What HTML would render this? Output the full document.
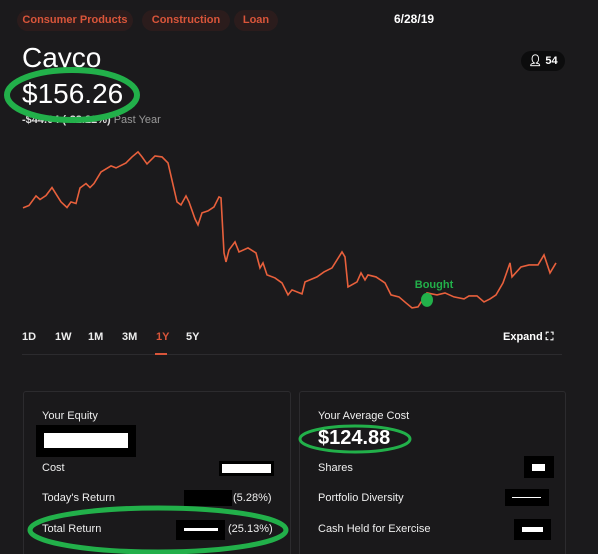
<!DOCTYPE html>
<html><head><meta charset="utf-8"><style>
html,body{margin:0;width:598px;height:554px;background:#1b1a1c;overflow:hidden;font-family:"Liberation Sans",sans-serif;color:#fff;position:relative}
.a{position:absolute;white-space:nowrap}
.pill{position:absolute;top:10px;height:21px;border-radius:11px;background:#2b1c1c;color:#d9553a;font-size:11px;font-weight:bold;line-height:21px;text-align:center}
.tab{position:absolute;top:331px;font-size:11px;font-weight:bold;color:#eee}
.card{position:absolute;top:391px;height:170px;border:1px solid #2c2b2e;border-radius:3px;background:#1a191b}
.lbl{position:absolute;font-size:11px;color:#eee}
.blk{position:absolute;background:#000}
.wht{position:absolute;background:#fff}
</style></head><body>
<div class="pill" style="left:17px;width:116px">Consumer Products</div>
<div class="pill" style="left:142px;width:88px">Construction</div>
<div class="pill" style="left:234px;width:44px">Loan</div>
<div class="a" style="left:394px;top:12px;font-size:12px;font-weight:bold">6/28/19</div>
<div class="a" style="left:521px;top:51px;width:44px;height:20px;border-radius:10px;background:#0c0c0d;font-size:11px;font-weight:bold;line-height:20px;text-align:center">&#x1F464;&#xFE0E; 54</div>
<div class="a" style="left:22px;top:42px;font-size:28px">Cayco</div>
<div class="a" style="left:22px;top:78px;font-size:28px">$156.26</div>
<div class="a" style="left:22px;top:114px;font-size:11px;font-weight:bold;color:#ddd">-$44.04 (-22.22%) <span style="color:#999;font-weight:normal">Past Year</span></div>
<svg class="a" style="left:0;top:0" width="598" height="554">
<ellipse cx="72" cy="95" rx="65" ry="25" fill="none" stroke="#22b04a" stroke-width="6"/>
</svg>
<svg id="chart" class="a" style="left:0;top:0" width="598" height="320"></svg>
<div class="tab" style="left:22px">1D</div>
<div class="tab" style="left:55px">1W</div>
<div class="tab" style="left:88px">1M</div>
<div class="tab" style="left:122px">3M</div>
<div class="tab" style="left:156px;color:#d9553a">1Y</div>
<div class="tab" style="left:186px">5Y</div>
<div class="a" style="left:503px;top:331px;font-size:11px;font-weight:bold">Expand &#x26F6;</div>
<div class="a" style="left:22px;top:354px;width:540px;height:1px;background:#2c2b2e"></div>
<div class="a" style="left:155px;top:353px;width:12px;height:2px;background:#d9553a"></div>
<div class="card" style="left:23px;width:266px"></div>
<div class="card" style="left:299px;width:265px"></div>
<div class="lbl" style="left:42px;top:410px">Your Equity</div>
<div class="blk" style="left:36px;top:425px;width:100px;height:32px"></div>
<div class="wht" style="left:44px;top:433px;width:84px;height:15px"></div>
<div class="lbl" style="left:42px;top:462px">Cost</div>
<div class="blk" style="left:219px;top:461px;width:55px;height:15px"></div>
<div class="wht" style="left:222px;top:464px;width:49px;height:9px"></div>
<div class="lbl" style="left:42px;top:492px">Today's Return</div>
<div class="blk" style="left:184px;top:490px;width:48px;height:16px"></div>
<div class="lbl" style="left:233px;top:492px">(5.28%)</div>
<div class="lbl" style="left:42px;top:523px">Total Return</div>
<div class="blk" style="left:176px;top:520px;width:49px;height:20px"></div>
<div class="wht" style="left:184px;top:528px;width:34px;height:3px"></div>
<div class="lbl" style="left:228px;top:523px">(25.13%)</div>
<div class="lbl" style="left:318px;top:410px">Your Average Cost</div>
<div class="a" style="left:318px;top:427px;font-size:20px;font-weight:bold">$124.88</div>
<div class="lbl" style="left:318px;top:462px">Shares</div>
<div class="blk" style="left:524px;top:456px;width:30px;height:22px"></div>
<div class="wht" style="left:532px;top:464px;width:13px;height:7px"></div>
<div class="lbl" style="left:318px;top:492px">Portfolio Diversity</div>
<div class="blk" style="left:505px;top:489px;width:44px;height:17px"></div>
<div class="wht" style="left:512px;top:497px;width:29px;height:1px"></div>
<div class="lbl" style="left:318px;top:523px">Cash Held for Exercise</div>
<div class="blk" style="left:514px;top:519px;width:37px;height:21px"></div>
<div class="wht" style="left:522px;top:527px;width:21px;height:5px"></div>
<svg class="a" style="left:0;top:0" width="598" height="554">
<ellipse cx="355" cy="439" rx="55" ry="13" fill="none" stroke="#22b04a" stroke-width="3"/>
<ellipse cx="158" cy="530" rx="128" ry="22" fill="none" stroke="#22b04a" stroke-width="5"/>
</svg>
<script>
const days=[1,7,14,18,24,30,35,39,45,49,54,58,64,68,72,79,89,94,104,110,116,120,125,133,140,146,155,159,164,167,173,176,180,186,192,197,199,202,204,207,213,217,226,234,238,241,245,253,260,266,270,280,283,295,302,310,320,323,326,335,339,343,346,354,363,369,377,384,390,396,405,415,423,432,442,447,455,462,468,474,481,488,490,499,507,516,522,528,534,539];
const prices=[183.8,185,189.8,188,190,194,190,186.8,184,186.8,186,193.8,196,194,196,201.8,204.8,203.8,206.3,209.3,211.8,209.3,205.8,209.8,209.3,206.3,186.8,185.3,189.8,186.8,178.3,175.3,181.3,182.3,184.3,189.3,188.8,161.3,156.8,162.8,166.8,161.8,163.8,161.3,153.8,156.3,150.3,148.8,146.3,140.3,142.8,140.8,146.8,149.3,151.8,153.8,161.8,159.3,144.3,146.8,151.3,147.8,150.3,149.3,146.3,140.3,139.3,136.3,133.8,134.3,141.3,140.3,141.3,139.3,138.3,139.8,139.8,136.8,138.3,140.3,146.3,156.3,149.3,154.3,155.3,155.3,160.3,151.3,156.3];
const boughtDay=405, boughtPrice=136.3;
const x=d=>22+d;
const y=v=>263-(v-156.26)*2;
const svg=document.getElementById('chart');
const NS='http://www.w3.org/2000/svg';
const line=document.createElementNS(NS,'polyline');


line.setAttribute('points',days.map((d,i)=>x(d)+','+y(prices[i])).join(' '));
line.setAttribute('fill','none');line.setAttribute('stroke','#e8603c');line.setAttribute('stroke-width','1.6');
svg.appendChild(line);
const dot=document.createElementNS(NS,'ellipse');


dot.setAttribute('cx',x(boughtDay));dot.setAttribute('cy',y(boughtPrice)-3);dot.setAttribute('rx','6');dot.setAttribute('ry','7');dot.setAttribute('fill','#22b04a');
svg.appendChild(dot);
const t=document.createElementNS(NS,'text');


t.setAttribute('x',x(boughtDay)+7);t.setAttribute('y',y(boughtPrice)-15);t.setAttribute('text-anchor','middle');
t.setAttribute('font-size','11');t.setAttribute('font-weight','bold');t.setAttribute('fill','#22b04a');t.setAttribute('font-family','Liberation Sans, sans-serif');
t.textContent='Bought';
svg.appendChild(t);
</script>
</body></html>
